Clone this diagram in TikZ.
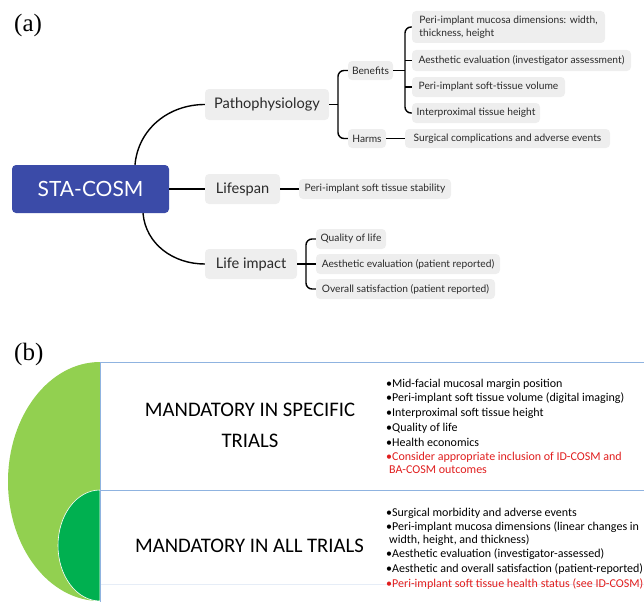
\documentclass[tikz,border=0pt]{standalone}
\usepackage{fontspec}
\setmainfont{Liberation Serif}
\newfontfamily\latofont{Lato}
\newfontfamily\calfont{Carlito}
\usetikzlibrary{calc}
\definecolor{rootblue}{HTML}{3B4BA8}
\definecolor{boxgray}{HTML}{EEEEEE}
\definecolor{txtgray}{HTML}{2A2A2A}
\definecolor{lgreen}{HTML}{92D050}
\definecolor{dgreen}{HTML}{00B050}
\definecolor{framebl}{HTML}{8FB3E0}
\definecolor{faintbl}{HTML}{E6EDF7}
\definecolor{redtxt}{HTML}{E01E1E}
\begin{document}
\begin{tikzpicture}[x=1pt,y=-1pt,
  gbox/.style={fill=boxgray, rounded corners=4pt, inner sep=0pt, text=txtgray},
  rootbox/.style={fill=rootblue, rounded corners=4pt, inner sep=0pt, text=white,
    font=\latofont\fontsize{21}{24}\selectfont},
  lvlone/.style={gbox, font=\latofont\fontsize{14.6}{18}\selectfont, minimum height=30pt},
  lvltwo/.style={gbox, font=\latofont\fontsize{10.2}{12}\selectfont, minimum height=19pt},
  leaf/.style={gbox, font=\latofont\fontsize{10.2}{12.5}\selectfont, minimum height=20pt},
  conn/.style={draw=black, line width=1.4pt},
  bracket/.style={conn, rounded corners=6pt},
  panellabel/.style={inner sep=0pt, anchor=base west, font=\fontsize{25}{28}\selectfont},
  bigtitle/.style={inner sep=0pt, align=center, text=black,
    font=\calfont\fontsize{20.7}{31}\selectfont},
  blist/.style={inner sep=0pt, anchor=north west, align=left, text=black,
    font=\calfont\fontsize{12}{12.3}\selectfont},
  framel/.style={draw=framebl, line width=1pt}
]
\useasboundingbox (0,0) rectangle (644,602);

% ---------- panel (a) ----------
\node[panellabel] (la) at (14,31) {(a)};

\node[rootbox, minimum width=157pt, minimum height=48pt] (root) at (90.5,189) {STA-COSM};
\node[lvlone, minimum width=124pt, minimum height=31pt] (patho) at (267,104.5) {Pathophysiology};
\node[lvlone, minimum width=75pt] (life) at (242.5,189) {Lifespan};
\node[lvlone, minimum width=92pt] (impact) at (251,264) {Life impact};

\node[lvltwo, minimum width=45pt] (benefits) at (370.5,70.5) {Benefits};
\node[lvltwo, minimum width=38pt] (harms) at (367,138.5) {Harms};

\node[leaf, minimum width=193pt, minimum height=32pt, align=left] (leafa) at (508.5,27)
  {Peri-implant mucosa dimensions: width,\\thickness, height};
\node[leaf, minimum width=219pt, minimum height=21pt] (leafb) at (521.5,60.5)
  {Aesthetic evaluation (investigator assessment)};
\node[leaf, minimum width=153pt] (leafc) at (488.5,87) {Peri-implant soft-tissue volume};
\node[leaf, minimum width=128pt] (leafd) at (476,113) {Interproximal tissue height};
\node[leaf, minimum width=205pt, minimum height=19pt] (surg) at (507.5,138.5)
  {Surgical complications and adverse events};
\node[leaf, minimum width=152pt] (stab) at (375,189) {Peri-implant soft tissue stability};
\node[leaf, minimum width=70pt] (qol) at (351,239) {Quality of life};
\node[leaf, minimum width=184pt] (aeval) at (408,264) {Aesthetic evaluation (patient reported)};
\node[leaf, minimum width=179pt] (overall) at (405.5,289) {Overall satisfaction (patient reported)};

% connectors
\draw[conn] ([xshift=44.5pt]root.north) to[out=85,in=180] (patho.west);
\draw[conn] (root.east) -- (life.west);
\draw[conn] ([xshift=52.5pt]root.south) to[out=-85,in=180] (impact.west);

\coordinate (ja) at (338,104.5);
\draw[conn] (patho.east) -- (ja);
\draw[bracket] (benefits.west) -| (ja) |- (harms.west);

\coordinate (jb) at (405,70.5);
\draw[conn] (benefits.east) -- (jb);
\draw[bracket] (leafa.west) -| (jb) |- (leafd.west);
\draw[conn] (leafb.west) -- (leafb.west -| jb);
\draw[conn] (leafc.west) -- (leafc.west -| jb);
\draw[conn] (harms.east) -- (surg.west);

\draw[conn] (life.east) -- (stab.west);

\coordinate (jc) at (306,264);
\draw[conn] (impact.east) -- (jc);
\draw[bracket] (qol.west) -| (jc) |- (overall.west);
\draw[conn] (aeval.west) -- (jc);

% ---------- panel (b) ----------
\node[panellabel] (lb) at (14,360) {(b)};

\fill[lgreen] (100,362) arc[start angle=90, end angle=270, x radius=92pt, y radius=119.5pt] -- cycle;
\filldraw[fill=dgreen, draw=white, line width=0.6pt]
  (100,490) arc[start angle=90, end angle=270, x radius=42pt, y radius=55.5pt] -- cycle;

\draw[draw=faintbl, line width=0.8pt] (100,584) -- (644,584);
\draw[framel] (644,362) -- (100,362) -- (100,602);
\draw[framel] (100,490) -- (644,490);

\node[bigtitle] (spec) at (250,425.5) {MANDATORY IN SPECIFIC\\TRIALS};
\node[bigtitle] (allt) at (249.5,546) {MANDATORY IN ALL TRIALS};

\node[blist] (listspec) at (386,378) {\rule{0pt}{9pt}•Mid-facial mucosal margin position\\[2.4pt]
•Peri-implant soft tissue volume (digital imaging)\\[2.4pt]
•Interproximal soft tissue height\\[2.4pt]
•Quality of life\\[2.4pt]
•Health economics\\[2.4pt]
\textcolor{redtxt}{•Consider appropriate inclusion of ID-COSM and}\\
\hspace*{3pt}\textcolor{redtxt}{BA-COSM outcomes}};

\node[blist] (listall) at (386,507) {\rule{0pt}{9pt}•Surgical morbidity and adverse events\\[2.4pt]
•Peri-implant mucosa dimensions (linear changes in\\
\hspace*{3pt}width, height, and thickness)\\[2.4pt]
•Aesthetic evaluation (investigator-assessed)\\[2.4pt]
•Aesthetic and overall satisfaction (patient-reported)\\[2.4pt]
\textcolor{redtxt}{•Peri-implant soft tissue health status (see ID-COSM)}};
\end{tikzpicture}
\end{document}
